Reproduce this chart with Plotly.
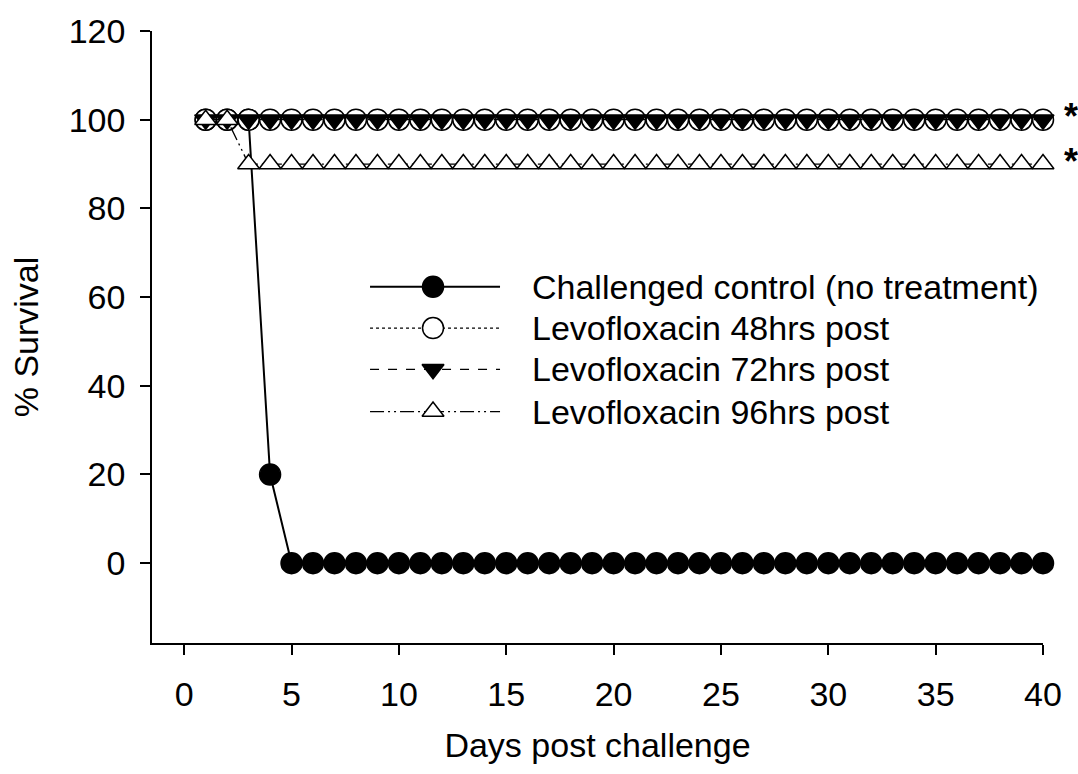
import plotly.graph_objects as go

# Survival (%) per day after challenge
days = [1, 2, 3, 4, 5, 6, 7, 8, 9, 10, 11, 12, 13, 14, 15, 16, 17, 18, 19, 20,
        21, 22, 23, 24, 25, 26, 27, 28, 29, 30, 31, 32, 33, 34, 35, 36, 37, 38, 39, 40]
control = [100, 100, 100, 20, 0, 0, 0, 0, 0, 0, 0, 0, 0, 0, 0, 0, 0, 0, 0, 0,
           0, 0, 0, 0, 0, 0, 0, 0, 0, 0, 0, 0, 0, 0, 0, 0, 0, 0, 0, 0]
levo_48 = [100, 100, 100, 100, 100, 100, 100, 100, 100, 100, 100, 100, 100, 100, 100, 100, 100, 100, 100, 100,
           100, 100, 100, 100, 100, 100, 100, 100, 100, 100, 100, 100, 100, 100, 100, 100, 100, 100, 100, 100]
levo_72 = [100, 100, 100, 100, 100, 100, 100, 100, 100, 100, 100, 100, 100, 100, 100, 100, 100, 100, 100, 100,
           100, 100, 100, 100, 100, 100, 100, 100, 100, 100, 100, 100, 100, 100, 100, 100, 100, 100, 100, 100]
levo_96 = [100, 100, 90, 90, 90, 90, 90, 90, 90, 90, 90, 90, 90, 90, 90, 90, 90, 90, 90, 90,
           90, 90, 90, 90, 90, 90, 90, 90, 90, 90, 90, 90, 90, 90, 90, 90, 90, 90, 90, 90]

series_names = ["Challenged control (no treatment)", "Levofloxacin 48hrs post",
                "Levofloxacin 72hrs post", "Levofloxacin 96hrs post"]
series_values = [control, levo_48, levo_72, levo_96]
x_ticks = [0, 5, 10, 15, 20, 25, 30, 35, 40]
y_ticks = [0, 20, 40, 60, 80, 100, 120]
significant = [(40, 100, "*"), (40, 90, "*")]

FONT = "Liberation Sans, Arial, sans-serif"
FS = 34

styles = [
    dict(symbol="circle", size=21, fill="black", dash="solid", lw=2),
    dict(symbol="circle", size=21, fill="white", dash="dot", lw=1.3),
    dict(symbol="triangle-down", size=19, fill="black", dash="dash", lw=1.3),
    dict(symbol="triangle-up", size=19, fill="white", dash="14px,4px,2px,4px,2px,4px", lw=1.3),
]

fig = go.Figure()
for name, vals, st in zip(series_names, series_values, styles):
    fig.add_trace(go.Scatter(
        x=days, y=vals, name=name, mode="lines+markers", cliponaxis=False,
        line=dict(color="black", width=st["lw"], dash=st["dash"]),
        marker=dict(symbol=st["symbol"], size=st["size"], color=st["fill"],
                    line=dict(color="black", width=1.5)),
        showlegend=False,
    ))

# Key drawn on an overlay axis spanning the plot area (0..1 in both directions)
key_x0, key_x1, key_xm, key_text_x = 0.2447, 0.3906, 0.3154, 0.4242
key_rows = [0.582, 0.5146, 0.4472, 0.3782]
for name, st, ky in zip(series_names, styles, key_rows):
    fig.add_trace(go.Scatter(
        x=[key_x0, key_x1], y=[ky, ky], mode="lines", xaxis="x2", yaxis="y2",
        line=dict(color="black", width=st["lw"], dash=st["dash"]),
        showlegend=False, hoverinfo="skip", cliponaxis=False,
    ))
    fig.add_trace(go.Scatter(
        x=[key_xm], y=[ky], mode="markers", xaxis="x2", yaxis="y2",
        marker=dict(symbol=st["symbol"], size=st["size"], color=st["fill"],
                    line=dict(color="black", width=1.5)),
        showlegend=False, hoverinfo="skip", cliponaxis=False,
    ))
    fig.add_annotation(x=key_text_x, y=ky, xref="x2", yref="y2", text=name,
                       showarrow=False, xanchor="left", yanchor="middle",
                       font=dict(family=FONT, size=FS, color="black"))

for xv, yv, txt in significant:
    fig.add_annotation(x=xv, y=yv, text="<b>" + txt + "</b>", showarrow=False,
                       xanchor="center", yanchor="middle", xshift=28, yshift=3,
                       font=dict(family=FONT, size=36, color="black"))

axis_common = dict(showline=True, linecolor="black", linewidth=1.5, ticks="outside",
                   ticklen=10, tickwidth=1.5, tickcolor="black", showgrid=False,
                   zeroline=False, tickfont=dict(family=FONT, size=FS, color="black"))

fig.update_layout(
    width=1078, height=774, autosize=False,
    margin=dict(l=152, r=35, t=20, b=131),
    paper_bgcolor="white", plot_bgcolor="white",
    font=dict(family=FONT, size=FS, color="black"),
    xaxis=dict(range=[-1.5, 40], tickvals=x_ticks, ticklabelstandoff=10,
               title=dict(text="Days post challenge", font=dict(family=FONT, size=FS), standoff=22),
               **axis_common),
    yaxis=dict(range=[-18, 120], tickvals=y_ticks, ticklabelstandoff=8,
               title=dict(text="% Survival", font=dict(family=FONT, size=FS), standoff=20),
               **axis_common),
    xaxis2=dict(range=[0, 1], overlaying="x", visible=False),
    yaxis2=dict(range=[0, 1], overlaying="y", visible=False),
)

fig.write_html("out.html")
